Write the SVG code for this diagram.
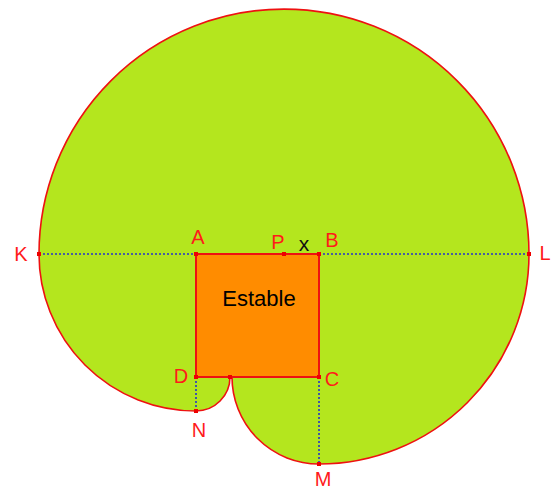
<svg xmlns="http://www.w3.org/2000/svg" width="560" height="490" viewBox="0 0 560 490">
<style>
.lbl{font-family:"Liberation Sans",Arial,sans-serif;font-size:20px;fill:#ff1a1a;text-anchor:middle}
.dot{stroke:#2233cc;stroke-width:1.6;stroke-dasharray:2,2;fill:none}
.pt{fill:#ee0000}
</style>
<rect width="560" height="490" fill="#ffffff"/>
<g id="region">
<path d="M39,254 A245,245 0 0 1 529,254 A210,210 0 0 1 319,464 A87,87 0 0 1 232,377 L230,377 A34,34 0 0 1 196,411 A157,157 0 0 1 39,254 Z" fill="#b4e61e" stroke="#ee1111" stroke-width="1.6"/>
</g>
<g id="connectors">
<line class="dot" x1="39" y1="254" x2="196" y2="254"/>
<line class="dot" x1="319" y1="254" x2="529" y2="254"/>
<line class="dot" x1="196" y1="377" x2="196" y2="411"/>
<line class="dot" x1="319" y1="377" x2="319" y2="464"/>
</g>
<g id="estable">
<rect x="196" y="254" width="123" height="123" fill="#ff8c00" stroke="#ee1111" stroke-width="2"/>
<text x="259" y="306" font-family="Liberation Sans,Arial,sans-serif" font-size="22" fill="#000" text-anchor="middle">Estable</text>
</g>
<g id="points">
<rect class="pt" x="37" y="252" width="4" height="4"/>
<rect class="pt" x="527" y="252" width="4" height="4"/>
<rect class="pt" x="194" y="252" width="4" height="4"/>
<rect class="pt" x="317" y="252" width="4" height="4"/>
<rect class="pt" x="282" y="252" width="4" height="4"/>
<rect class="pt" x="194" y="375" width="4" height="4"/>
<rect class="pt" x="317" y="375" width="4" height="4"/>
<rect class="pt" x="228" y="375" width="4" height="4"/>
<rect class="pt" x="194" y="409" width="4" height="4"/>
<rect class="pt" x="317" y="462" width="4" height="4"/>
</g>
<g id="labels">
<text class="lbl" x="198" y="244">A</text>
<text class="lbl" x="332" y="247">B</text>
<text class="lbl" x="278" y="249">P</text>
<text x="304" y="251" font-family="Liberation Sans,Arial,sans-serif" font-size="21" fill="#111" text-anchor="middle">x</text>
<text class="lbl" x="21" y="261">K</text>
<text class="lbl" x="545" y="260">L</text>
<text class="lbl" x="181" y="383">D</text>
<text class="lbl" x="332" y="386">C</text>
<text class="lbl" x="199" y="437">N</text>
<text class="lbl" x="323" y="486">M</text>
</g>
</svg>
